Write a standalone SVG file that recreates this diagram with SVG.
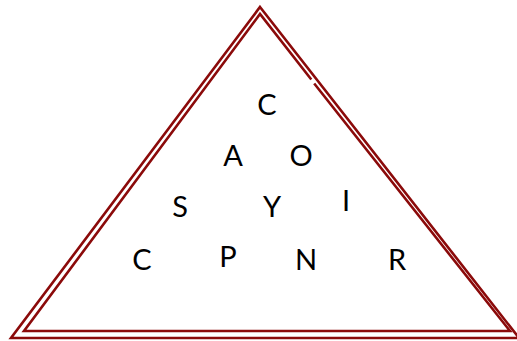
<svg xmlns="http://www.w3.org/2000/svg" width="517" height="341" viewBox="0 0 517 341">
<style>
.t{fill:none;stroke:#8b0a0a;stroke-width:2.6;stroke-linejoin:miter}
.l{font-family:Lato,"Open Sans",sans-serif;font-size:29px;fill:#000;text-anchor:middle}
</style>
<rect width="517" height="341" fill="#fff"/>
<g id="triangle">
<path class="t" d="M260,7 L519,338 L11,338 Z"/>
<path class="t" d="M314.2,83.5 L510,331 L24,331 L260,14 L311.3,79.5"/>
</g>
<g id="letters">
<text class="l" x="267" y="115">C</text>
<text class="l" x="233" y="166">A</text>
<text class="l" x="301" y="166">O</text>
<text class="l" x="180" y="217">S</text>
<text class="l" x="272" y="217">Y</text>
<text class="l" x="346" y="211">I</text>
<text class="l" x="142" y="270">C</text>
<text class="l" x="228" y="267">P</text>
<text class="l" x="306" y="270">N</text>
<text class="l" x="397" y="270">R</text>
</g>
</svg>
